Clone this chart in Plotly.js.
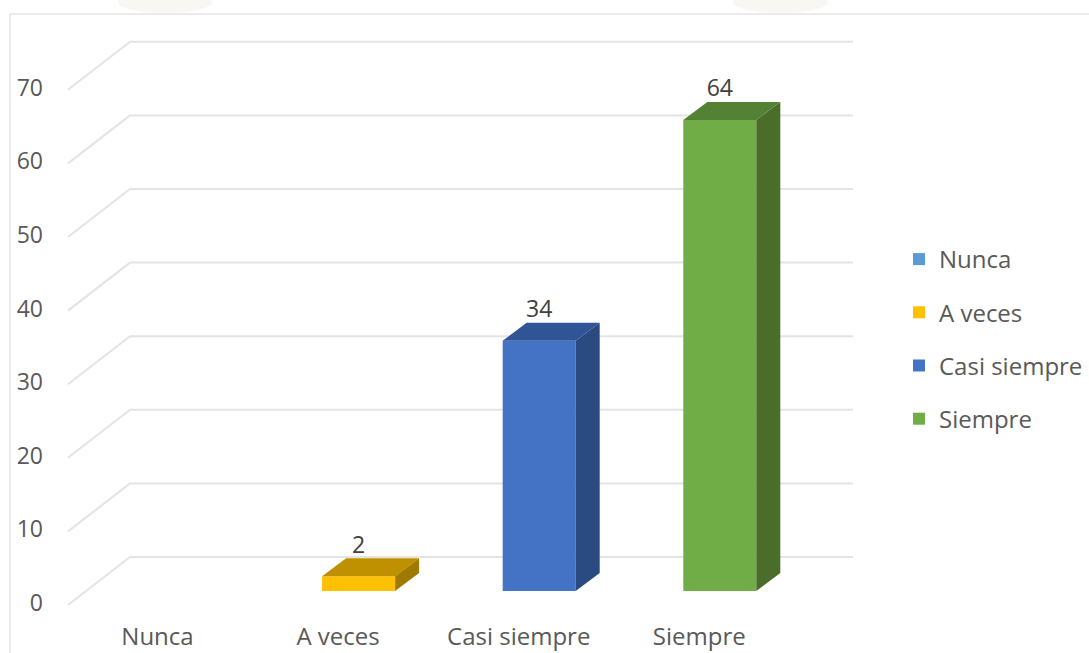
<!DOCTYPE html>
<html>
<head>
<meta charset="utf-8">
<script src="https://cdn.plot.ly/plotly-3.0.1.min.js"></script>
<style>html,body{margin:0;padding:0;background:#fff;overflow:hidden}</style>
</head>
<body>
<div id="chart" style="width:1089px;height:653px"></div>
<script>
// Survey answers per frequency category
const categories = ['Nunca', 'A veces', 'Casi siempre', 'Siempre'];
const counts = [0, 2, 34, 64];
const yTicks = [0, 10, 20, 30, 40, 50, 60, 70];

// Fill colours of the bar front, top and side faces
const frontColors = ['#5B9BD5', '#FFC000', '#4472C4', '#70AD47'];
const topColors = ['#41719C', '#BF9000', '#2F5597', '#548235'];
const sideColors = ['#35608A', '#A07A00', '#2A4A82', '#4A6E2A'];

// Canvas layout in pixels
const W = 1089, H = 653;
const M = {l: 50, r: 0, t: 14, b: 38};
const pxPerCat = 180.6, pxPerUnit = 7.36;
const originX = 178, originY = 591;
const toX = px => (px - originX) / pxPerCat;
const toY = px => (originY - px) / pxPerUnit;

// Oblique projection: bar width and depth, back wall and floor offsets
const barWidth = 73 / pxPerCat;
const depthX = 24 / pxPerCat, depthY = 18 / pxPerUnit;
const wallBack = toY(557), wallFront = toY(605);
const gridX0 = toX(68), gridX1 = toX(130), gridX2 = toX(853);

// Category labels sit on the front floor edge, left of the bars
const labelDrift = 20.5 / pxPerCat;

const traces = [];

// Front faces, one trace per category so that each gets a legend entry
categories.forEach((name, i) => {
  traces.push({
    type: 'bar', x: [i], y: [counts[i]], name, width: barWidth,
    marker: {color: frontColors[i], line: {width: 0}},
    legendgroup: name, hoverinfo: 'skip'
  });
});

// Top and side faces derived from each value
counts.forEach((v, i) => {
  if (v <= 0) return;
  const a = i - barWidth / 2, b = i + barWidth / 2;
  traces.push({
    type: 'scatter', mode: 'lines', fill: 'toself', showlegend: false, hoverinfo: 'skip',
    x: [a, b, b + depthX, a + depthX, a], y: [v, v, v + depthY, v + depthY, v],
    fillcolor: topColors[i], line: {width: 0, color: topColors[i]}
  });
  traces.push({
    type: 'scatter', mode: 'lines', fill: 'toself', showlegend: false, hoverinfo: 'skip',
    x: [b, b + depthX, b + depthX, b, b], y: [0, depthY, v + depthY, v, 0],
    fillcolor: sideColors[i], line: {width: 0, color: sideColors[i]}
  });
});

// Value labels above the bars that have a height
const shown = counts.map((v, i) => i).filter(i => counts[i] > 0);
traces.push({
  type: 'scatter', mode: 'text', showlegend: false, hoverinfo: 'skip',
  x: shown, y: shown.map(i => counts[i] + depthY),
  text: shown.map(i => String(counts[i])), textposition: 'top center',
  textfont: {family: '"Open Sans", sans-serif', size: 23, color: '#404040'}
});

// Gridlines: diagonal on the side wall, then horizontal on the back wall
const gridLine = {color: '#E4E4E4', width: 2};
const shapes = [];
yTicks.forEach(t => {
  shapes.push({type: 'line', layer: 'below', xref: 'x', yref: 'y', line: gridLine,
    x0: gridX0, y0: t + wallFront, x1: gridX1, y1: t + wallBack});
  shapes.push({type: 'line', layer: 'below', xref: 'x', yref: 'y', line: gridLine,
    x0: gridX1, y0: t + wallBack, x1: gridX2, y1: t + wallBack});
});

// Page frame and the pale marks along the upper edge
const plotW = W - M.l - M.r, plotH = H - M.t - M.b;
const paperX = px => (px - M.l) / plotW;
const paperY = px => 1 - (px - M.t) / plotH;
const frame = {color: '#E4E4E4', width: 1.5};
shapes.push({type: 'line', xref: 'paper', yref: 'paper', line: frame,
  x0: paperX(10), x1: paperX(10), y0: paperY(14), y1: paperY(653)});
shapes.push({type: 'line', xref: 'paper', yref: 'paper', line: frame,
  x0: paperX(10), x1: paperX(1089), y0: paperY(14), y1: paperY(14)});
[[118, 212], [733, 828]].forEach(([a, b]) => {
  shapes.push({type: 'circle', xref: 'paper', yref: 'paper', layer: 'below',
    fillcolor: '#F8F7F4', line: {width: 0},
    x0: paperX(a), x1: paperX(b), y0: paperY(13), y1: paperY(-8)});
});

const font = {family: '"Open Sans", sans-serif', size: 23, color: '#595959'};
const wideFont = {family: font.family, size: 24, color: font.color};
const layout = {
  width: W, height: H, margin: M, showlegend: true,
  paper_bgcolor: '#fff', plot_bgcolor: 'rgba(0,0,0,0)', font,
  barmode: 'overlay',
  xaxis: {
    range: [toX(M.l), toX(W - M.r)], tickmode: 'array',
    tickvals: categories.map((c, i) => i - labelDrift), ticktext: categories,
    showgrid: false, zeroline: false, showline: false, ticks: '',
    ticklabelstandoff: 5, tickfont: wideFont
  },
  yaxis: {
    range: [toY(H - M.b), toY(M.t)], tickmode: 'array',
    tickvals: yTicks, ticktext: yTicks.map(String),
    showgrid: false, zeroline: false, showline: false, ticks: '',
    ticklabelshift: 12, ticklabelstandoff: 6, tickfont: font
  },
  legend: {
    x: paperX(899), y: paperY(237), xanchor: 'left', yanchor: 'top',
    bgcolor: 'rgba(0,0,0,0)', font: wideFont, tracegroupgap: 19, itemclick: false
  },
  shapes
};

Plotly.newPlot('chart', traces, layout, {displayModeBar: false, staticPlot: true});
</script>
</body>
</html>
